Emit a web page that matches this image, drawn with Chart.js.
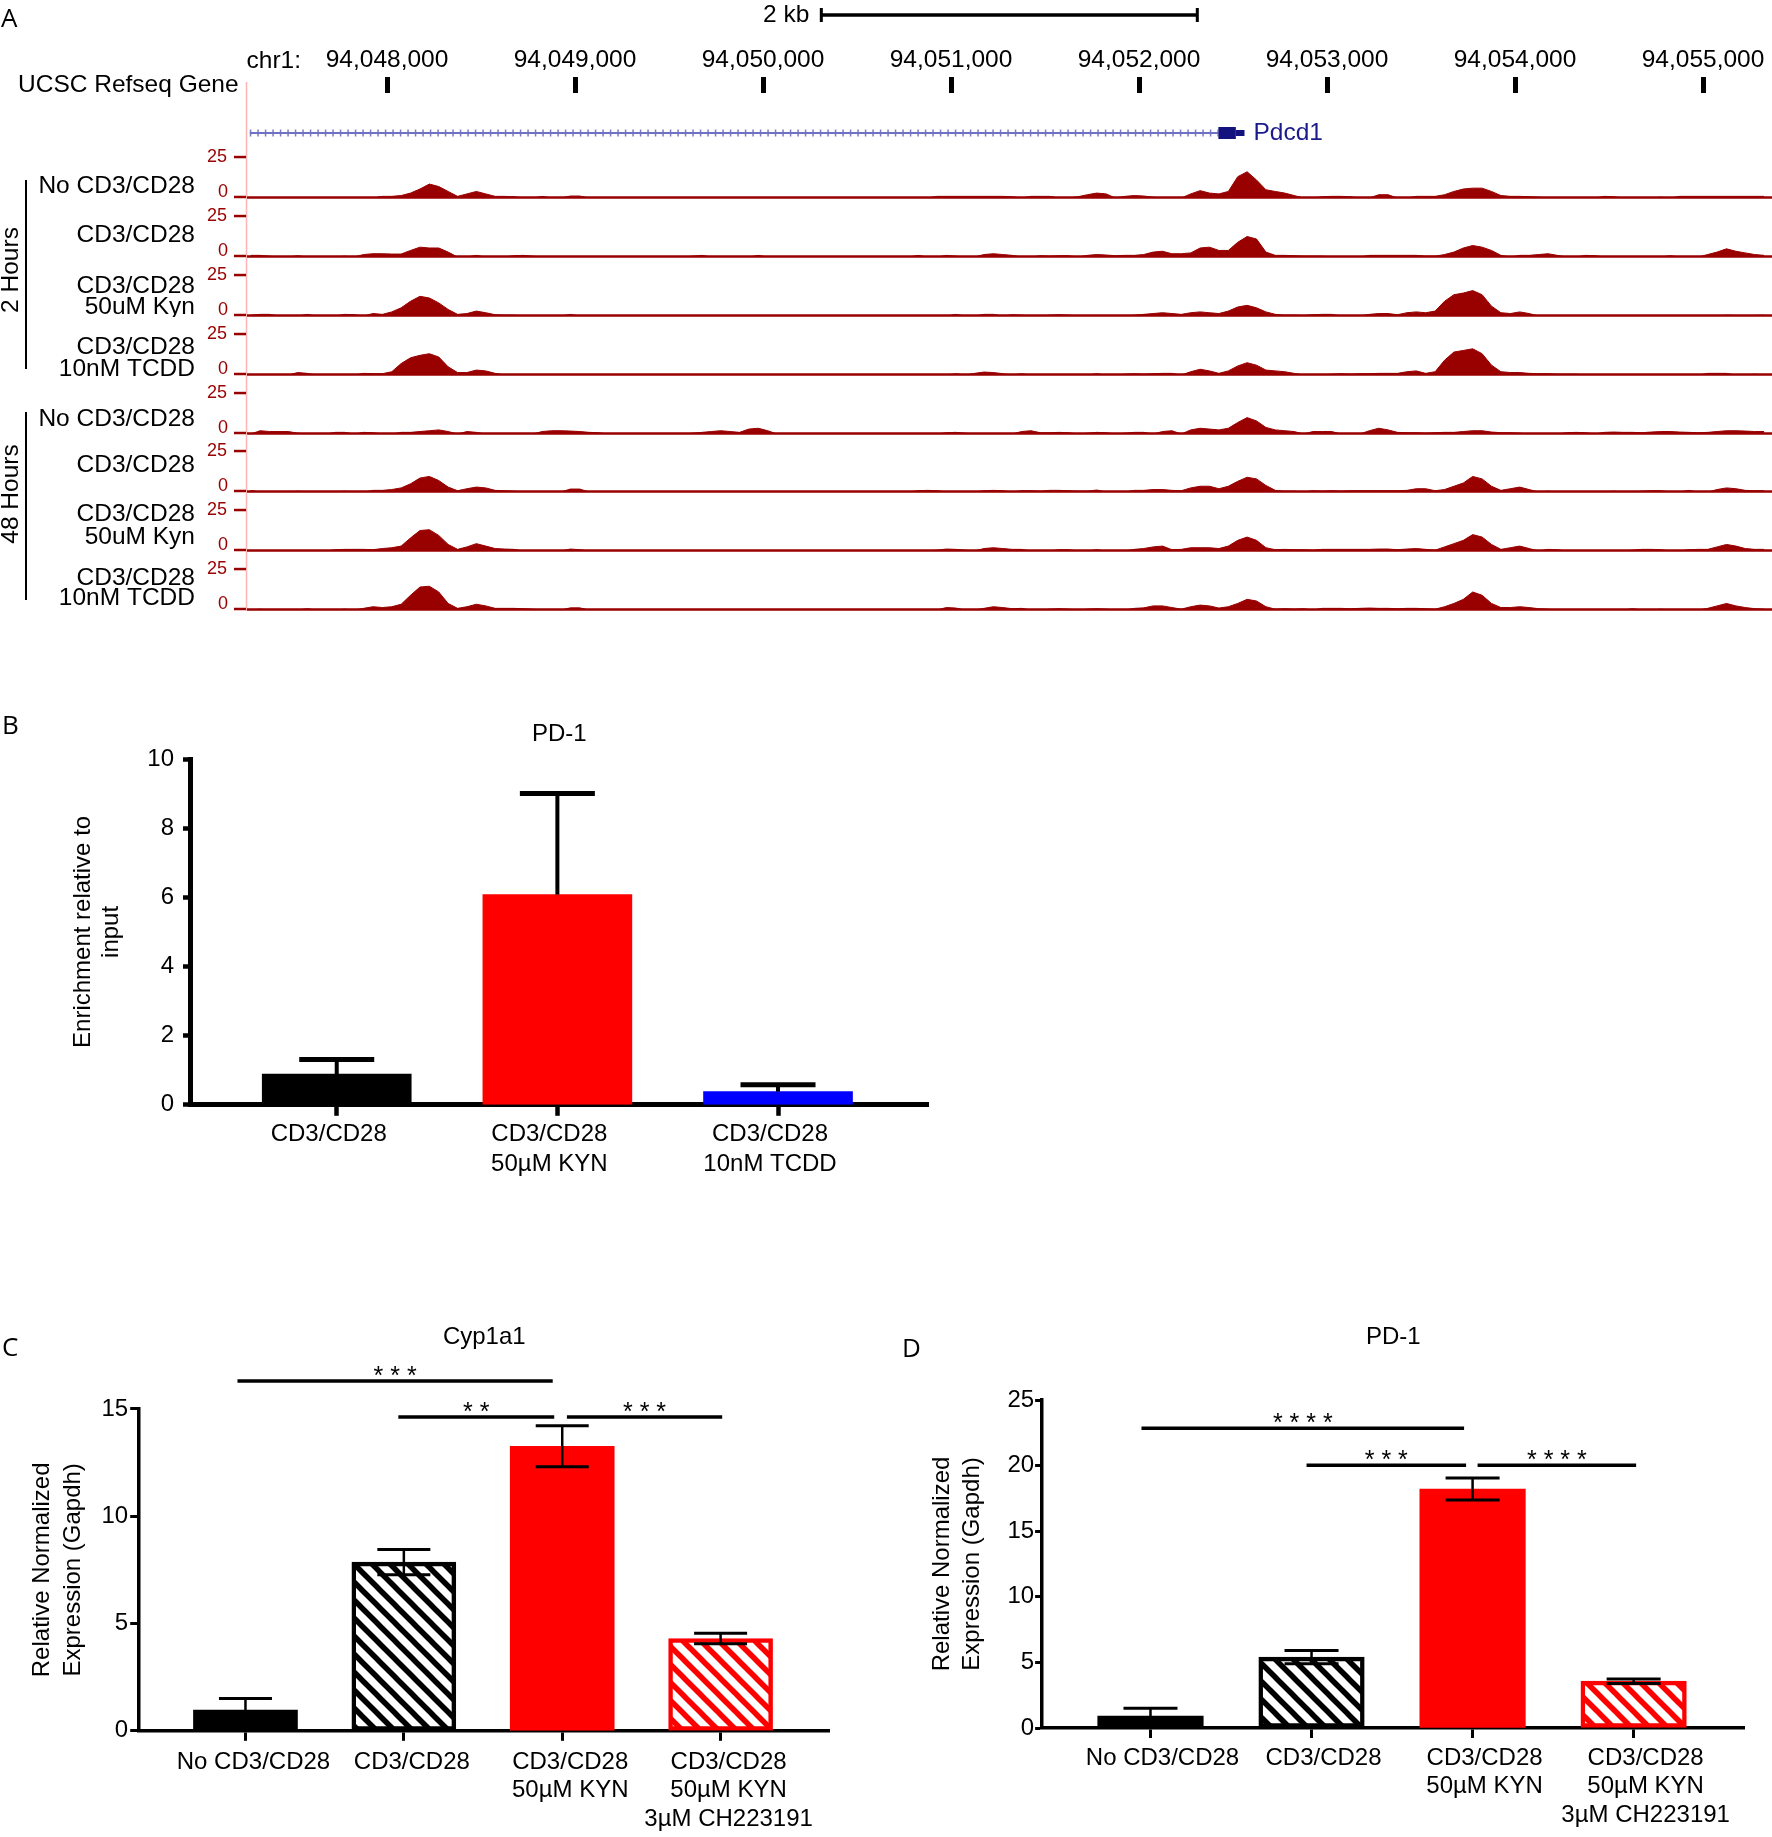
<!DOCTYPE html>
<html>
<head>
<meta charset="utf-8">
<title>Pdcd1 ChIP and expression</title>
<script src="https://cdn.jsdelivr.net/npm/chart.js@4.4.1/dist/chart.umd.min.js"></script>
<style>
  body { margin: 0; background: #fff; }
  #page { position: relative; width: 1772px; height: 1837px; overflow: hidden; background: #fff;
          font-family: "Liberation Sans", Arial, sans-serif; color: #000; }
  #page canvas { position: absolute; }
  .panel { position: absolute; font-family: "Open Sans", sans-serif; font-size: 26px; line-height: 26px; }
  .group { position: absolute; font-size: 24.5px; line-height: 24px; white-space: nowrap;
           transform: translate(-50%, -50%) rotate(-90deg); }
  .bar { position: absolute; width: 2px; background: #000; }
</style>
</head>
<body>
<div id="page">
  <canvas id="ruler" width="1772" height="140" style="left:0;top:0"></canvas>
  <canvas id="chipChart" width="960" height="500" style="left:0;top:700px"></canvas>
  <canvas id="cypChart" width="880" height="537" style="left:0;top:1300px"></canvas>
  <canvas id="pdChart" width="892" height="537" style="left:880px;top:1300px"></canvas>

  <div class="panel" style="left:1px;top:4px">A</div>
  <div class="panel" style="left:2px;top:711px">B</div>
  <div class="panel" style="left:2px;top:1333px">C</div>
  <div class="panel" style="left:902px;top:1334px">D</div>

  <div class="group" style="left:10px;top:270px">2 Hours</div>
  <div class="bar" style="left:25px;top:180px;height:189px"></div>
  <div class="group" style="left:10px;top:494px">48 Hours</div>
  <div class="bar" style="left:25px;top:412px;height:188px"></div>
</div>

<script>
// ---- panel A: browser view of the Pdcd1 locus ----
var regionStart = 94047255;
var regionEnd = 94055367;
var positionTicks = [94048000, 94049000, 94050000, 94051000, 94052000, 94053000, 94054000, 94055000];
var scaleBar = [94050310, 94052310];
var geneStart = 94047270;
var exonStart = 94052422;
var exonEnd = 94052515;
var geneEnd = 94052561;

// 50 bp bins starting here
var binStart = 94047275;
var binSize = 50;

var trackLabels = [["No CD3/CD28"], ["CD3/CD28"], ["CD3/CD28", "50uM Kyn"], ["CD3/CD28", "10nM TCDD"],
                   ["No CD3/CD28"], ["CD3/CD28"], ["CD3/CD28", "50uM Kyn"], ["CD3/CD28", "10nM TCDD"]];
var trackTicks = [0, 25];

var h2NoStim = [
  0, 0, 0, 0, 0, 0, 0, 0, 0, 0,
  0, 0.3, 0, 0, 1, 1, 1.5, 3, 5.5, 8.5,
  7, 4, 1, 2.5, 4, 2.5, 1, 1, 0.8, 0,
  0, 1, 0, 0, 1.2, 1.2, 0, 0, 0, 0,
  0, 0, 0, 0, 0, 0, 0, 0, 0.3, 0,
  0, 0, 0, 0, 0, 0, 0, 0, 0, 0.3,
  0, 0, 0, 0, 0, 0, 0, 0, 0, 0,
  0, 0, 0, 1, 1, 1, 1, 1, 1, 1,
  1, 0.8, 0, 1, 1, 1, 0, 0, 0.8, 2,
  3, 2.5, 0, 1, 1.5, 1.2, 0.5, 0, 0, 0,
  2.5, 4.5, 3, 2.5, 4, 13, 16, 11, 5, 4,
  3, 1.5, 0, 0, 0.8, 1, 1, 0.8, 0, 0,
  2, 2, 0, 0, 1, 1, 1, 2, 4, 5.5,
  6, 6, 4, 1.5, 1, 1, 0.8, 0.5, 0, 0,
  0, 0, 0, 0, 1, 0.8, 0, 0, 0, 0,
  0.5, 0, 1, 1, 1, 1, 1, 1, 1, 1,
  1, 1
];
var h2Stim = [
  1, 1, 0.5, 0, 0, 0.8, 0, 0, 0, 0,
  0.5, 0, 1.5, 2, 2, 1.8, 1.8, 4, 6, 5.5,
  5.5, 3, 0, 0, 1, 0, 0, 0, 0.8, 1,
  0.5, 0, 0, 0, 0, 0, 0, 0, 0, 0,
  0, 0, 0, 0, 0, 0, 0, 0.5, 1, 0,
  0, 0, 0, 0, 1, 0, 0, 0, 0, 0,
  0, 0, 0, 0, 0, 0, 0, 0, 0, 0,
  0, 1, 0, 0, 1, 0.5, 0, 0, 1.5, 2,
  1.5, 1, 0, 0, 0.8, 0.5, 0.8, 0.8, 0, 1,
  1.5, 1.2, 0.8, 1, 1, 1.5, 3, 3.5, 2, 2,
  2.5, 5.5, 6, 4, 4, 9, 12.5, 11, 3, 1,
  1, 0.8, 0.5, 0.5, 0.5, 0, 0, 0, 0, 1,
  1, 1, 1, 1, 1, 0.5, 0.5, 1.5, 3, 5.5,
  7, 6, 4, 1, 0, 1, 1, 1.5, 2, 1,
  0, 0, 1, 0.8, 0, 0, 0, 0, 0, 0,
  0, 0.8, 0, 0, 0, 1.5, 3, 5, 3.5, 2.5,
  1.5, 1
];
var h2Kyn = [
  0.5, 1, 1, 0, 0, 0, 1, 0, 0, 0,
  1, 0.8, 0, 1.5, 1, 2.5, 5, 9, 12, 11,
  8, 4, 1, 1.5, 3, 2, 0.8, 0.5, 0.5, 0,
  0, 0, 0, 0, 1, 0, 0, 0.3, 0, 0,
  0, 0, 0, 0, 0, 0, 0, 0, 0, 0,
  0, 0, 0, 0, 0, 0, 0, 0, 0, 0,
  0, 0, 0, 0, 0, 0, 0, 0, 0, 0,
  0, 0, 0, 0, 0, 1, 0, 0, 1, 1,
  0, 0.8, 0.5, 0, 0, 0.5, 0.8, 0.5, 0, 0,
  0, 0, 0, 0, 0.5, 1, 1.5, 2, 1.5, 1,
  2, 2.5, 2, 1.5, 3, 5.5, 6.5, 5, 2.5, 1,
  0.5, 0.5, 0.3, 0.8, 1, 1, 0, 0, 0, 1,
  1.5, 1.5, 0.8, 2, 2.5, 2, 3, 9, 13, 14,
  15.5, 13, 6, 2, 1.5, 2.5, 1.5, 0, 0, 0,
  0, 0, 0.3, 0, 0, 0, 0, 0, 0, 0,
  0, 0, 0, 0, 0, 0, 0, 0.5, 0.3, 0,
  0.3, 0.5
];
var h2Tcdd = [
  0, 0, 0, 0, 0, 1.5, 1, 0, 0, 0,
  0, 0, 1, 0.8, 0.8, 2, 7, 10.5, 12, 13,
  11, 5, 1.5, 1.5, 3, 2.5, 1, 0, 0, 0,
  0, 0, 0, 0, 0, 0, 0, 0, 0, 0,
  0, 0, 0, 0, 0, 0, 0, 0, 0, 0,
  0, 0, 0, 0, 0, 0, 0, 0, 0, 0,
  0, 0, 0, 0, 0, 0, 0, 0, 0, 0,
  0, 0, 0, 0, 0, 0.8, 0, 1, 1.8, 1.5,
  0.8, 0, 0.8, 0, 0, 0, 0, 0, 0, 0,
  0.8, 0, 0, 0.5, 0.8, 0.5, 0.8, 1, 1, 0,
  2, 3.5, 2.5, 1, 2.5, 5.5, 7.5, 6, 3, 2.5,
  2, 1, 0, 0, 0, 0.5, 0.8, 0.5, 0.8, 0.8,
  1, 1, 1, 2, 2.5, 1, 2, 9, 14, 15,
  16, 13, 6, 2, 1.5, 1.5, 1, 0.8, 0.8, 0.5,
  0.5, 0.5, 0, 0, 0, 0, 0, 0.3, 0, 0,
  0, 0, 0, 0, 0, 1, 1, 1, 0, 0,
  0.5, 0
];
var h48NoStim = [
  0, 2, 1.5, 1.5, 1.5, 0.5, 0, 0, 0, 1,
  1, 0, 1, 0.8, 0, 0, 1, 1, 1.5, 2,
  2.5, 1.5, 0, 1.5, 1, 0, 0, 0.3, 0, 0,
  0, 1.5, 2, 2, 1.8, 1.5, 1, 0.8, 0, 0,
  0, 0, 0, 0, 0, 0, 0, 0.5, 1, 1.5,
  2, 1.5, 1, 3, 3.5, 2, 0, 0, 0, 0,
  0, 0, 0, 0, 0, 0, 0, 0, 0, 0,
  0, 0, 0, 0, 0.8, 1, 0.5, 0, 0, 0,
  0, 0, 1.5, 2, 0.8, 0.8, 1, 0.8, 0, 0.5,
  1, 0.8, 0, 0.5, 1, 1, 0, 1.5, 2, 0,
  2.5, 3.5, 3, 2.5, 3.5, 7, 10, 8, 4, 2.5,
  2, 1.5, 0, 1.5, 1.5, 1.5, 0, 0, 0, 2,
  3.5, 2.5, 1, 0.8, 0.8, 0.5, 0.8, 1, 1, 1.5,
  2, 2, 1.2, 0.8, 0.8, 0.5, 0, 0, 0, 0,
  0.8, 1, 0.8, 0, 1, 1.2, 1, 1, 0.8, 1.2,
  1.5, 1.5, 1.2, 1, 0.8, 1, 1.5, 2, 2, 1.8,
  1.5, 1.5
];
var h48Stim = [
  1, 0, 0, 0, 0, 0.5, 0, 0, 0, 0,
  0.5, 0, 0, 1, 1, 1.5, 2.5, 5, 8.5, 9.5,
  7, 3, 0.8, 2, 3, 2.5, 1, 0.8, 0.5, 0,
  0, 0, 0, 0, 1.8, 1.8, 0, 0, 0, 0,
  0, 0, 0, 0, 0, 0, 0, 0, 0, 0,
  0, 0, 0, 0, 0, 0, 0, 0, 0, 0,
  0, 0, 0, 0, 0, 0, 0, 0, 0, 0,
  0, 0.8, 1, 0.8, 0, 0, 0, 0, 0.8, 1,
  0.8, 0, 0.8, 0.8, 0.5, 1, 1, 0.8, 0.5, 0.5,
  1.2, 0, 0, 0, 1, 1, 1.5, 1.5, 1, 0.8,
  2.5, 3.5, 3.5, 2, 3.5, 6.5, 9, 8, 4, 1,
  0.5, 0.5, 0, 0.8, 0.5, 0.8, 0.5, 0.8, 0.8, 0.8,
  0.8, 0.8, 0.8, 1, 2, 2, 0.8, 1.5, 3.5, 5.5,
  9.5, 8, 3.5, 1, 2, 3, 1.5, 0, 0.5, 0,
  0, 0, 0.3, 0, 0, 0.5, 0, 0, 0.5, 0.8,
  0.8, 0, 0, 1, 0, 0, 1.5, 2.5, 2, 1,
  0.8, 0.8
];
var h48Kyn = [
  0, 0, 0, 0, 0, 0, 0, 0, 0, 0.8,
  1, 1, 1, 0.8, 1.5, 2, 3, 8, 12.5, 13,
  9.5, 4, 1, 2.5, 4.5, 3, 1.5, 1.2, 1, 0,
  0, 0, 0, 0, 1.2, 0.8, 0, 0, 0, 0,
  0, 0, 0, 0, 0, 0, 0, 0, 0, 0,
  0, 0, 0, 0, 0, 0, 0, 0, 0, 0,
  0, 0, 0, 0, 0, 0, 0, 0, 0, 0,
  0, 0, 0, 0.5, 1.2, 1, 0.5, 0, 1.5, 2,
  1.5, 1, 1, 0, 0, 0, 0.8, 0.8, 0, 0,
  0.8, 0, 0, 0, 1, 1.5, 2.5, 3, 0.8, 1,
  2, 2, 2, 1.5, 3, 6.5, 8.5, 6.5, 2, 0.8,
  1, 0.8, 0.8, 0.5, 1, 1, 1, 1, 1, 1,
  1.2, 1.2, 0.8, 1.2, 1.5, 1, 0.5, 2.5, 4.5, 6.5,
  10, 8.5, 4, 1, 2, 3, 1.5, 0, 1, 0.8,
  0, 0, 0, 0, 0, 0.3, 0, 0.5, 1, 1,
  0.8, 0, 0, 0.8, 1, 1, 2.5, 4, 3, 1.5,
  1, 1
];
var h48Tcdd = [
  0, 0.5, 0, 0, 0, 0, 0.8, 0, 0, 0,
  0.5, 0, 1, 2, 1.5, 2, 3.5, 9, 14, 14.5,
  11, 4, 1, 2, 3.5, 2.5, 1, 1, 1, 0.8,
  0.5, 0, 0, 0, 1.3, 1.3, 0, 0, 0, 0,
  0, 0, 0, 0, 0, 0, 0, 0, 0, 0,
  0, 0, 0, 0, 0, 0, 0, 0, 0, 0,
  0, 0, 0, 0, 0, 0, 0, 0, 0, 0,
  0, 0, 0, 0, 1.5, 1.2, 0, 0, 1, 2,
  1.5, 0.8, 1, 0, 0, 0.5, 0.8, 0.5, 0, 0.5,
  0.8, 0.5, 0, 0, 1, 1.3, 2.5, 2.5, 1.5, 0.5,
  2, 3, 2.5, 1.2, 2, 4, 6.5, 5.5, 2, 0.5,
  0.8, 0.5, 0.8, 0, 1, 1, 1, 0.8, 1, 1.2,
  1, 1, 0.8, 1, 1, 0.8, 0.5, 2, 4, 6.5,
  11, 9, 4, 1.5, 1.5, 2, 1.5, 0.8, 0.5, 0,
  0, 0, 0, 0, 0, 0, 0, 0.8, 0, 0,
  0.5, 0, 0, 0, 0, 1, 2.5, 4, 2.5, 1.5,
  0.8, 0.5
];
var tracks = [h2NoStim, h2Stim, h2Kyn, h2Tcdd, h48NoStim, h48Stim, h48Kyn, h48Tcdd];

// ---- panel B: ChIP-qPCR ----
var chipLabels = [["CD3/CD28"], ["CD3/CD28", "50µM KYN"], ["CD3/CD28", "10nM TCDD"]];
var chipEnrichment = [0.89, 6.08, 0.38];
var chipSem = [0.42, 2.92, 0.20];

// ---- panels C and D: qPCR ----
var qpcrLabels = [["No CD3/CD28"], ["CD3/CD28"], ["CD3/CD28", "50µM KYN"], ["CD3/CD28", "50µM KYN", "3µM CH223191"]];
var cyp1a1Expr = [0.97, 7.86, 13.26, 4.30];
var cyp1a1Sem = [0.54, 0.59, 0.96, 0.24];
var cyp1a1Sig = [[0, 2, 16.3, "* * *"], [1, 2, 14.62, "* *"], [2, 3, 14.62, "* * *"]];
var pd1Expr = [0.91, 5.40, 18.21, 3.57];
var pd1Sem = [0.60, 0.50, 0.84, 0.17];
var pd1Sig = [[0, 2, 22.84, "* * * *"], [1, 2, 20.02, "* * *"], [2, 3, 20.02, "* * * *"]];

// layout
var trackBaselines = [198, 257, 316, 375, 434, 492, 551, 610];
var trackLabelOffsets = [[-12], [-22], [-30, -9], [-28, -6], [-15], [-27], [-37, -14], [-32, -12]];
var FONT = '"Liberation Sans", Arial, sans-serif';
var TRACK_RED = '#990000';

Chart.defaults.font.family = FONT;
Chart.defaults.font.size = 24;
Chart.defaults.color = '#000';
Chart.defaults.plugins.legend.display = false;
Chart.defaults.plugins.tooltip.enabled = false;

var page = document.getElementById('page');

function rulerDecor() {
  return {
    id: 'rulerDecor',
    afterDraw: function (chart) {
      var ctx = chart.ctx, area = chart.chartArea, xs = chart.scales.x, ys = chart.scales.y;
      ctx.save();
      ctx.strokeStyle = '#ffb3b3';
      ctx.lineWidth = 1.5;
      ctx.beginPath();
      ctx.moveTo(area.left - 0.5, area.top - 11);
      ctx.lineTo(area.left - 0.5, chart.height);
      ctx.stroke();

      ctx.fillStyle = '#000';
      ctx.font = '24.5px ' + FONT;
      ctx.textBaseline = 'middle';
      ctx.textAlign = 'left';
      ctx.fillText('UCSC Refseq Gene', 18, 85);
      ctx.textAlign = 'right';
      ctx.textBaseline = 'alphabetic';
      ctx.fillText('chr1:', 301, 68);

      // scale bar
      var x1 = xs.getPixelForValue(scaleBar[0]), x2 = xs.getPixelForValue(scaleBar[1]);
      ctx.strokeStyle = '#000';
      ctx.lineWidth = 3.5;
      ctx.beginPath();
      ctx.moveTo(x1, 15); ctx.lineTo(x2, 15);
      ctx.stroke();
      ctx.lineWidth = 3;
      ctx.beginPath();
      ctx.moveTo(x1, 8); ctx.lineTo(x1, 22);
      ctx.moveTo(x2, 8); ctx.lineTo(x2, 22);
      ctx.stroke();
      ctx.textBaseline = 'middle';
      ctx.fillText('2 kb', x1 - 12, 15);

      ctx.fillStyle = '#1a1a8c';
      ctx.textAlign = 'left';
      ctx.fillText('Pdcd1', xs.getPixelForValue(geneEnd) + 9, ys.getPixelForValue(0));
      ctx.restore();
    }
  };
}

new Chart(document.getElementById('ruler'), {
  type: 'line',
  data: {
    datasets: [
      {data: [{x: exonStart, y: 0}, {x: exonEnd, y: 0}], borderColor: '#13137f', borderWidth: 12, borderCapStyle: 'butt'},
      {data: [{x: exonEnd, y: 0}, {x: geneEnd, y: 0}], borderColor: '#13137f', borderWidth: 6, borderCapStyle: 'butt'},
      {data: [{x: geneStart, y: 0}, {x: exonStart, y: 0}], borderColor: '#7070c4', borderWidth: 2},
      {data: [{x: geneStart, y: 0}, {x: exonStart, y: 0}], borderColor: 'rgba(80,80,170,0.75)', borderWidth: 7, borderDash: [1.5, 6]}
    ]
  },
  options: {
    responsive: false, animation: false, events: [],
    layout: {padding: {left: 247, right: 0, top: 0, bottom: 0}},
    elements: {point: {radius: 0}},
    scales: {
      x: {
        type: 'linear', position: 'top', min: regionStart, max: regionEnd,
        afterBuildTicks: function (s) { s.ticks = positionTicks.map(function (v) { return {value: v}; }); },
        afterFit: function (s) { s.height = 93; },
        ticks: {autoSkip: false, maxRotation: 0, padding: 2.5, color: '#000', font: {size: 24.5},
                callback: function (v) { return v.toLocaleString('en-US'); }},
        grid: {drawOnChartArea: false, tickLength: 16, tickWidth: 5, tickColor: '#000'},
        border: {display: false}
      },
      y: {display: false, min: -0.175, max: 1}
    }
  },
  plugins: [rulerDecor()]
});

function trackDecor(k) {
  return {
    id: 'trackDecor',
    afterDraw: function (chart) {
      var ctx = chart.ctx, area = chart.chartArea, ys = chart.scales.y;
      var y0 = ys.getPixelForValue(0);
      ctx.save();
      ctx.strokeStyle = '#ffb3b3';
      ctx.lineWidth = 1.5;
      ctx.beginPath();
      ctx.moveTo(area.left - 0.5, 0);
      ctx.lineTo(area.left - 0.5, chart.height);
      ctx.stroke();

      ctx.strokeStyle = TRACK_RED;
      ctx.lineWidth = 2.5;
      ctx.beginPath();
      ctx.moveTo(area.left, y0 - 0.5);
      ctx.lineTo(area.right, y0 - 0.5);
      ctx.stroke();

      ctx.fillStyle = TRACK_RED;
      ctx.font = '18px ' + FONT;
      ctx.textAlign = 'right';
      ctx.lineWidth = 2.5;
      trackTicks.forEach(function (t) {
        var py = ys.getPixelForValue(t);
        if (t === 0) {
          ctx.textBaseline = 'alphabetic';
          ctx.fillText(String(t), 228, py - 1);
          py -= 1;
        } else {
          ctx.textBaseline = 'middle';
          ctx.fillText(String(t), 227, py);
        }
        ctx.beginPath();
        ctx.moveTo(234, py); ctx.lineTo(246, py);
        ctx.stroke();
      });

      ctx.fillStyle = '#000';
      ctx.font = '24.5px ' + FONT;
      ctx.textBaseline = 'middle';
      trackLabels[k].forEach(function (line, j) {
        ctx.fillText(line, 195, y0 + trackLabelOffsets[k][j]);
      });
      ctx.restore();
    }
  };
}

tracks.forEach(function (values, k) {
  var canvas = document.createElement('canvas');
  canvas.width = 1772;
  canvas.height = 59;
  canvas.style.left = '0px';
  canvas.style.top = (trackBaselines[k] - 58) + 'px';
  page.appendChild(canvas);
  new Chart(canvas, {
    type: 'line',
    data: {
      datasets: [{
        data: values.map(function (v, i) { return {x: binStart + i * binSize, y: v}; }),
        fill: 'origin',
        backgroundColor: TRACK_RED,
        borderColor: TRACK_RED,
        borderWidth: 1,
        pointRadius: 0,
        tension: 0
      }]
    },
    options: {
      responsive: false, animation: false, events: [],
      layout: {padding: {left: 247, right: 0, top: 0, bottom: 1}},
      scales: {
        x: {type: 'linear', display: false, min: regionStart, max: regionEnd},
        y: {display: false, min: 0, max: 35.4}
      }
    },
    plugins: [trackDecor(k)]
  });
});

// ---- bar panels ----
function hatch(color) {
  var c = document.createElement('canvas');
  c.width = 18; c.height = 18;
  var g = c.getContext('2d');
  g.fillStyle = '#fff';
  g.fillRect(0, 0, 18, 18);
  g.strokeStyle = color;
  g.lineWidth = 5.5;
  [-18, 0, 18].forEach(function (k) {
    g.beginPath();
    g.moveTo(k - 3, -3);
    g.lineTo(k + 21, 21);
    g.stroke();
  });
  return g.createPattern(c, 'repeat');
}

function barExtras(o) {
  return {
    id: 'barExtras',
    afterDatasetsDraw: function (chart) {
      var ctx = chart.ctx, xs = chart.scales.x, ys = chart.scales.y;
      ctx.save();
      ctx.strokeStyle = '#000';
      ctx.fillStyle = '#000';
      o.values.forEach(function (v, i) {
        var x = xs.getPixelForValue(i);
        var top = ys.getPixelForValue(v + o.sem[i]);
        var low = ys.getPixelForValue(o.twoSided ? v - o.sem[i] : v);
        ctx.lineWidth = o.lineWidth;
        ctx.beginPath();
        ctx.moveTo(x, low); ctx.lineTo(x, top);
        ctx.stroke();
        ctx.lineWidth = o.capLineWidth;
        ctx.beginPath();
        ctx.moveTo(x - o.capWidth / 2, top); ctx.lineTo(x + o.capWidth / 2, top);
        if (o.twoSided) {
          ctx.moveTo(x - o.capWidth / 2, low); ctx.lineTo(x + o.capWidth / 2, low);
        }
        ctx.stroke();
      });
      (o.sig || []).forEach(function (s, k) {
        var off = o.sigOffsets[k];
        var x1 = xs.getPixelForValue(s[0]) + off[0];
        var x2 = xs.getPixelForValue(s[1]) + off[1];
        var yy = ys.getPixelForValue(s[2]);
        ctx.lineWidth = 3.5;
        ctx.beginPath();
        ctx.moveTo(x1, yy); ctx.lineTo(x2, yy);
        ctx.stroke();
        ctx.font = '25px ' + FONT;
        ctx.textAlign = 'center';
        ctx.textBaseline = 'alphabetic';
        ctx.fillText(s[3], (x1 + x2) / 2, yy + 3);
      });
      ctx.restore();
    }
  };
}

function qBar(id, o) {
  return new Chart(document.getElementById(id), {
    type: 'bar',
    data: {
      datasets: [{
        data: o.values.map(function (v, i) { return {x: i, y: v}; }),
        backgroundColor: o.fills,
        borderColor: o.borders,
        borderWidth: o.borderWidths,
        borderSkipped: false,
        barThickness: o.barWidth
      }]
    },
    options: {
      responsive: false, animation: false, events: [],
      layout: {padding: {left: 0, right: o.padRight, top: 0, bottom: 0}},
      plugins: {
        title: {display: true, text: o.title, fullSize: false, color: '#000',
                font: {size: 24, weight: 'normal'}, padding: {top: o.titleTop, bottom: o.titleBottom}}
      },
      scales: {
        x: {
          type: 'linear', min: o.xMin, max: o.xMax, offset: false, z: 1,
          afterBuildTicks: function (s) { s.ticks = o.labels.map(function (l, i) { return {value: i}; }); },
          afterFit: function (s) { s.height = o.xHeight; },
          ticks: {autoSkip: false, maxRotation: 0, color: '#000', padding: o.xPad, labelOffset: o.xShift,
                  font: {size: 24, lineHeight: o.xLine},
                  callback: function (v) { return o.labels[v]; }},
          grid: {offset: false, drawOnChartArea: false, tickLength: o.xTick, tickWidth: o.tickWidth, tickColor: '#000'},
          border: {color: '#000', width: o.axisWidth}
        },
        y: {
          min: 0, max: o.yMax, z: 1,
          afterFit: function (s) { s.width = o.yWidth; },
          ticks: {stepSize: o.yStep, color: '#000', padding: o.yPad, font: {size: 24}},
          grid: {drawOnChartArea: false, tickLength: o.yTick, tickWidth: o.tickWidth, tickColor: '#000'},
          border: {color: '#000', width: o.axisWidth},
          title: {display: true, text: o.yTitle, color: '#000',
                  font: {size: 24, lineHeight: o.yTitleLine}, padding: {top: o.yTitleTop, bottom: 0}}
        }
      }
    },
    plugins: [barExtras(o)]
  });
}

var hatchBlack = hatch('#000');
var hatchRed = hatch('#ff0000');

qBar('chipChart', {
  title: 'PD-1', values: chipEnrichment, sem: chipSem, twoSided: false, labels: chipLabels,
  fills: ['#000000', '#ff0000', '#0000ff'], borders: ['#000000', '#ff0000', '#0000ff'], borderWidths: [0, 0, 0],
  barWidth: 149, capWidth: 75, lineWidth: 4, capLineWidth: 5,
  padRight: 31.5, titleTop: 19.6, titleBottom: 10.6,
  xMin: -0.665, xMax: 2.682, xHeight: 95.2, xPad: 3.2, xLine: 1.25, xTick: 11, xShift: -8,
  tickWidth: 4.5, axisWidth: 5,
  yMax: 10, yStep: 2, yPad: 9, yWidth: 190, yTick: 7,
  yTitle: ['Enrichment relative to', 'input'], yTitleLine: 1.17, yTitleTop: 69.3
});

qBar('cypChart', {
  title: 'Cyp1a1', values: cyp1a1Expr, sem: cyp1a1Sem, twoSided: true, labels: qpcrLabels,
  fills: ['#000000', hatchBlack, '#ff0000', hatchRed], borders: ['#000000', '#000000', '#ff0000', '#ff0000'],
  borderWidths: [0, 4.5, 0, 4.5],
  barWidth: 104, capWidth: 53, lineWidth: 2.5, capLineWidth: 3,
  padRight: 50.6, titleTop: 22.6, titleBottom: 57.5,
  xMin: -0.671, xMax: 3.687, xHeight: 106.2, xPad: 6.8, xLine: 1.2, xTick: 10, xShift: 8,
  tickWidth: 3, axisWidth: 3.5,
  yMax: 15, yStep: 5, yPad: 2, yWidth: 139.2, yTick: 9,
  yTitle: ['Relative Normalized', 'Expression (Gapdh)'], yTitleLine: 1.3, yTitleTop: 26.4,
  sig: cyp1a1Sig, sigOffsets: [[-8, -9.5], [-5.5, -8], [4.7, 1.6]]
});

qBar('pdChart', {
  title: 'PD-1', values: pd1Expr, sem: pd1Sem, twoSided: true, labels: qpcrLabels,
  fills: ['#000000', hatchBlack, '#ff0000', hatchRed], borders: ['#000000', '#000000', '#ff0000', '#ff0000'],
  borderWidths: [0, 4.5, 0, 4.5],
  barWidth: 105.5, capWidth: 54, lineWidth: 2.5, capLineWidth: 3,
  padRight: 27.4, titleTop: 23.3, titleBottom: 47.9,
  xMin: -0.673, xMax: 3.689, xHeight: 109, xPad: 5.6, xLine: 1.2, xTick: 10, xShift: 12,
  tickWidth: 3, axisWidth: 3.5,
  yMax: 25, yStep: 5, yPad: 1, yWidth: 162.1, yTick: 7,
  yTitle: ['Relative Normalized', 'Expression (Gapdh)'], yTitleLine: 1.23, yTitleTop: 47.8,
  sig: pd1Sig, sigOffsets: [[-9, -8.5], [-5, -6.5], [5, 2.5]]
});
</script>
</body>
</html>
